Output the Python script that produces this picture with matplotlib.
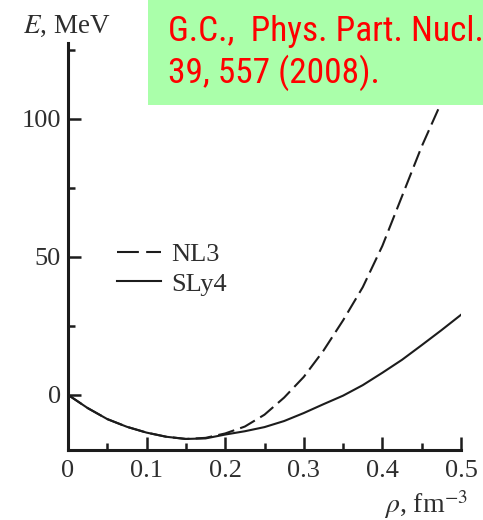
import matplotlib
matplotlib.use('Agg')
import matplotlib.pyplot as plt
from matplotlib.patches import Rectangle
from matplotlib.lines import Line2D
from matplotlib.ticker import MultipleLocator

plt.rcParams['font.family'] = ['Liberation Serif', 'DejaVu Serif']
plt.rcParams['mathtext.fontset'] = 'stix'

INK = '#1c1c1c'
LABEL = '#2e2e2e'
BOX = '#aaffaa'
RED = '#ff0000'

# density (fm^-3) and energy per nucleon (MeV)
RHO = [0.0, 0.025, 0.05, 0.075, 0.1, 0.125, 0.15, 0.175, 0.2, 0.225, 0.25,
       0.275, 0.3, 0.325, 0.35, 0.375, 0.4, 0.425, 0.45, 0.475, 0.5]
E_SLY4 = [0.0, -4.8, -8.8, -11.6, -13.7, -15.2, -16.0, -15.8, -14.4, -13.2, -11.7,
          -9.5, -6.6, -3.4, -0.3, 3.5, 8.0, 12.7, 18.0, 23.4, 29.0]
E_NL3 = [0.0, -4.8, -8.8, -11.6, -13.7, -15.2, -16.0, -15.6, -14.0, -11.5, -7.2,
         -1.0, 6.5, 16.0, 27.0, 39.0, 54.0, 72.0, 90.0, 106.0, 121.0]

SERIES = ['NL3', 'SLy4']
XTICKS = [0, 0.1, 0.2, 0.3, 0.4, 0.5]
XTICKLABELS = ['0', '0.1', '0.2', '0.3', '0.4', '0.5']
YTICKS = [0, 50, 100]
CITE = ['G.C.,  Phys. Part. Nucl.', '39, 557 (2008).']

W, H = 483, 520
fig = plt.figure(figsize=(W / 100, H / 100), dpi=100)
ax = fig.add_axes([68 / W, 1 - 450 / H, 393 / W, 407 / H])

dash = (0, (8, 3))
ax.plot(RHO, E_NL3, color=INK, lw=1.5, ls=dash)
ax.plot(RHO, E_SLY4, color=INK, lw=1.5)

ax.set_xlim(0, 0.5)
ax.set_ylim(-20, 127.5)
ax.set_xticks(XTICKS)
ax.set_xticklabels(XTICKLABELS)
ax.set_yticks(YTICKS)
ax.xaxis.set_minor_locator(MultipleLocator(0.05))
ax.yaxis.set_minor_locator(MultipleLocator(25))

for side in ['top', 'right']:
    ax.spines[side].set_visible(False)
for side in ['left', 'bottom']:
    ax.spines[side].set_linewidth(2.2)
    ax.spines[side].set_color(INK)

ax.tick_params(which='major', direction='in', length=9.5, width=1.8, color=INK,
               labelsize=19, labelcolor=LABEL)
ax.tick_params(which='minor', direction='in', length=5, width=1.8, color=INK)
ax.tick_params(axis='x', pad=7)
ax.tick_params(axis='y', pad=5)

handles = [Line2D([], [], color=INK, lw=1.5, ls=(0, (10.5, 3.5))),
           Line2D([], [], color=INK, lw=1.5)]
ax.legend(handles, SERIES, loc='upper left', bbox_to_anchor=(0.125, 0.51),
          frameon=False, fontsize=19, handlelength=1.65, handletextpad=0.4,
          labelspacing=0.24, borderpad=0, borderaxespad=0, labelcolor=LABEL)

fig.text(23 / W, 1 - 33 / H, r'$E$, MeV', fontsize=19.5, color=LABEL, va='baseline')
fig.text(384 / W, 1 - 513 / H, r'$\rho$, fm$^{-3}$', fontsize=20, color=LABEL,
         va='baseline')

# citation box in the upper right corner
fig.patches.append(Rectangle((148 / W, 1 - 105 / H), (W - 148) / W, 105 / H,
                             transform=fig.transFigure, facecolor=BOX,
                             edgecolor='none', zorder=2))
narrow = ['Roboto Condensed', 'Archivo Narrow', 'DejaVu Sans']
fig.text(168 / W, 1 - 41 / H, CITE[0], fontsize=25.5, color=RED, family=narrow,
         va='baseline', zorder=3)
fig.text(168 / W, 1 - 83 / H, CITE[1], fontsize=25.5, color=RED, family=narrow,
         va='baseline', zorder=3)

fig.savefig('out.png', dpi=100)
